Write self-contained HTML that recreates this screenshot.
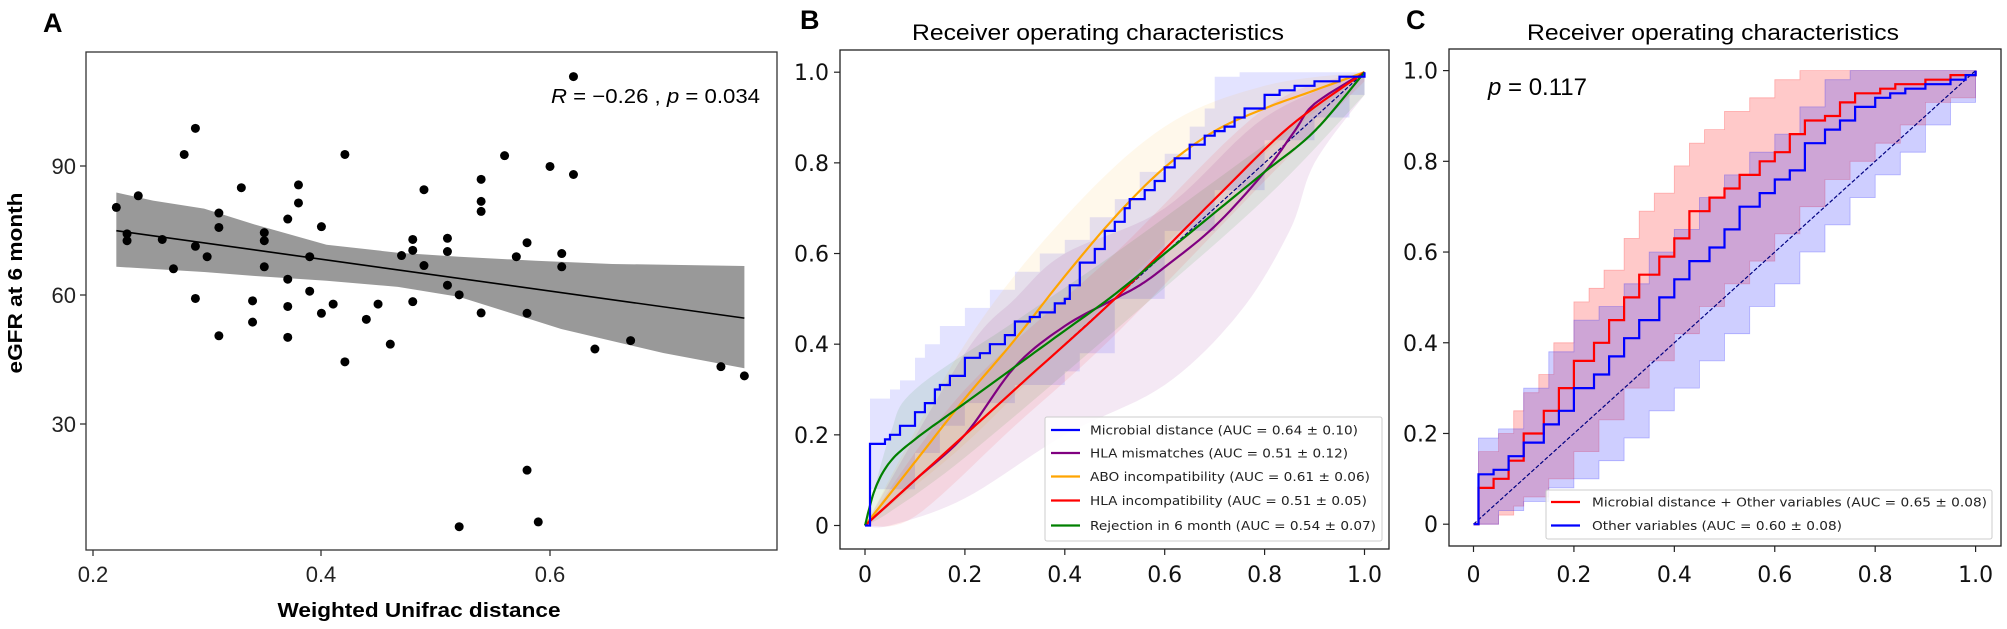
<!DOCTYPE html>
<html><head><meta charset="utf-8"><style>
html,body{margin:0;padding:0;background:#fff;}
svg{display:block;}
text{font-family:"Liberation Sans",sans-serif;}
.n{font-family:"DejaVu Sans","Liberation Sans",sans-serif;}
</style></head><body>
<svg id="s" width="2007" height="629" viewBox="0 0 2007 629" xmlns="http://www.w3.org/2000/svg">
<rect width="2007" height="629" fill="#fff"/>
<g id="A"></g>
<rect x="86" y="52" width="691" height="498" fill="none" stroke="#333" stroke-width="1.3"/>
<g stroke="#333" stroke-width="1.3">
<line x1="93" y1="550" x2="93" y2="556"/><line x1="321" y1="550" x2="321" y2="556"/><line x1="550" y1="550" x2="550" y2="556"/>
<line x1="80" y1="166" x2="86" y2="166"/><line x1="80" y1="295" x2="86" y2="295"/><line x1="80" y1="424" x2="86" y2="424"/>
</g>
<g font-size="22" fill="#222" style="font-family:'Liberation Sans Narrow','Liberation Sans',sans-serif">
<text x="93" y="582" text-anchor="middle">0.2</text><text x="321" y="582" text-anchor="middle">0.4</text><text x="550" y="582" text-anchor="middle">0.6</text>
<text x="76" y="174" text-anchor="end">90</text><text x="76" y="303" text-anchor="end">60</text><text x="76" y="432" text-anchor="end">30</text>
</g>
<text x="551" y="103" font-size="20" textLength="209" lengthAdjust="spacingAndGlyphs"><tspan font-style="italic">R</tspan> = −0.26 , <tspan font-style="italic">p</tspan> = 0.034</text>
<text x="43" y="32" font-size="27" font-weight="bold">A</text>
<text transform="translate(22,283) rotate(-90)" text-anchor="middle" font-size="20" font-weight="bold" textLength="181" lengthAdjust="spacingAndGlyphs">eGFR at 6 month</text>
<text x="419" y="617" text-anchor="middle" font-size="20" font-weight="bold" textLength="283" lengthAdjust="spacingAndGlyphs">Weighted Unifrac distance</text>

<text x="800" y="29" font-size="27" font-weight="bold">B</text>
<text x="1098" y="40" text-anchor="middle" font-size="22" textLength="372" lengthAdjust="spacingAndGlyphs">Receiver operating characteristics</text>
<g id="B"></g>
<rect x="840" y="50" width="549" height="499" fill="none" stroke="#222" stroke-width="1.3"/>
<text x="1406" y="29" font-size="27" font-weight="bold">C</text>
<text x="1713" y="40" text-anchor="middle" font-size="22" textLength="372" lengthAdjust="spacingAndGlyphs">Receiver operating characteristics</text>
<g id="C"></g>
<rect x="1449" y="49" width="552" height="497" fill="none" stroke="#222" stroke-width="1.3"/>
<text x="1488" y="95" font-size="24"><tspan font-style="italic">p</tspan> = 0.117</text>
</svg>
<script>
var NS="http://www.w3.org/2000/svg";
function el(p,t,a,txt){var e=document.createElementNS(NS,t);for(var k in a)e.setAttribute(k,a[k]);if(txt!=null)e.textContent=txt;document.getElementById(p).appendChild(e);return e;}
function ax(z){return z*800/1568;} function ay(z){return z*629/1568;}
var up=[[228,480],[300,500],[400,520],[500,560],[640,610],[780,630],[900,640],[1050,650],[1200,658],[1459,663]];
var lo=[[1459,918],[1300,880],[1100,820],[1000,780],[900,740],[780,715],[640,700],[500,688],[400,678],[228,665]];
el("A","polygon",{points:up.concat(lo).map(function(p){return ax(p[0])+","+ay(p[1]);}).join(" "),fill:"#999"});
el("A","line",{x1:ax(228),y1:ay(575),x2:ax(1459),y2:ay(793),stroke:"#000","stroke-width":1.6});
var pts=[[228,517],[249,583],[249,600],[271,488],[318,597],[340,670],[361,385],[383,320],[383,614],[383,744],[406,640],[429,531],[429,567],[429,837],[473,468],[495,750],[495,803],[518,580],[518,600],[518,665],[564,546],[564,696],[564,764],[564,841],[585,461],[585,506],[607,640],[607,726],[630,565],[630,781],[653,758],[676,385],[676,902],[718,796],[741,758],[765,858],[787,637],[809,597],[809,624],[809,752],[831,473],[831,662],[877,594],[877,627],[877,711],[900,735],[900,1313],[943,447],[943,502],[943,527],[943,780],[989,388],[1012,640],[1033,605],[1033,781],[1033,1172],[1055,1301],[1078,415],[1101,632],[1101,665],[1124,191],[1124,435],[1166,870],[1236,849],[1413,914],[1459,937]];
pts.forEach(function(p){el("A","circle",{cx:ax(p[0]),cy:ay(p[1]),r:4.5,fill:"#000"});});

function steps(a){var r=[a[0]];for(var i=1;i<a.length;i++){r.push([a[i][0],a[i-1][1]]);r.push(a[i]);}return r;}
function smooth(a){
 var r=[];for(var i=0;i<a.length-1;i++){var p0=a[Math.max(i-1,0)],p1=a[i],p2=a[i+1],p3=a[Math.min(i+2,a.length-1)];
 for(var t=0;t<1;t+=0.1){var t2=t*t,t3=t2*t;function c(k){return 0.5*((2*p1[k])+(-p0[k]+p2[k])*t+(2*p0[k]-5*p1[k]+4*p2[k]-p3[k])*t2+(-p0[k]+3*p1[k]-3*p2[k]+p3[k])*t3);}r.push([c(0),c(1)]);}}
 r.push(a[a.length-1]);return r;}
var boxL={B:840,C:1449};
function panel(id,X0,X1,Y0,Y1,bands,lines,boxB){
 var px=function(x){return X0+(X1-X0)*x},py=function(y){return Y0+(Y1-Y0)*y};
 function s(a){return a.map(function(p){return px(p[0]).toFixed(1)+","+py(p[1]).toFixed(1);}).join(" ");}
 bands.forEach(function(b){el(id,"polygon",{points:s(b.u.concat(b.l.slice().reverse())),fill:b.c,stroke:b.sc||"none","stroke-width":0.8});});
 el(id,"line",{x1:px(0),y1:py(0),x2:px(1),y2:py(1),stroke:"#000080","stroke-width":1.2,"stroke-dasharray":"4,2"});
 lines.forEach(function(l){el(id,"polyline",{points:s(l.p),fill:"none",stroke:l.c,"stroke-width":2.2});});
 [0,0.2,0.4,0.6,0.8,1].forEach(function(t){var lab=t==0?"0":t.toFixed(1);
  el(id,"line",{x1:px(t),y1:boxB,x2:px(t),y2:boxB+6,stroke:"#222","stroke-width":1.2});
  el(id,"text",{x:px(t),y:582,"text-anchor":"middle","font-size":22,"class":"n",fill:"#111"},lab);
  el(id,"line",{x1:boxL[id],y1:py(t),x2:boxL[id]-6,y2:py(t),stroke:"#222","stroke-width":1.2});
  el(id,"text",{x:boxL[id]-11,y:py(t)+8,"text-anchor":"end","font-size":22,"class":"n",fill:"#111"},lab);
 });
}
var bB={u:steps([[0,0],[0.01,0.28],[0.03,0.28],[0.05,0.3],[0.07,0.32],[0.1,0.37],[0.12,0.4],[0.15,0.44],[0.2,0.48],[0.25,0.52],[0.3,0.56],[0.35,0.6],[0.4,0.63],[0.45,0.68],[0.5,0.72],[0.55,0.78],[0.6,0.82],[0.65,0.88],[0.68,0.92],[0.7,0.99],[0.75,1],[1,1]]),
 l:steps([[0,0],[0.01,0.08],[0.05,0.08],[0.1,0.16],[0.15,0.22],[0.2,0.27],[0.3,0.31],[0.4,0.34],[0.43,0.38],[0.5,0.5],[0.6,0.65],[0.7,0.74],[0.8,0.85],[0.9,0.9],[0.97,0.95],[1,1]]),c:"rgba(0,0,255,0.11)"};
var pB={u:smooth([[0,0],[0.2,0.38],[0.3,0.5],[0.4,0.6],[0.6,0.7],[0.8,0.9],[1,1]]),l:smooth([[0,0],[0.05,0],[0.2,0.06],[0.4,0.2],[0.6,0.31],[0.75,0.47],[0.85,0.65],[0.9,0.8],[1,0.95]]),c:"rgba(128,0,128,0.09)"};
var oB={u:smooth([[0,0],[0.2,0.4],[0.4,0.68],[0.6,0.88],[0.8,0.97],[1,1]]),l:smooth([[0,0],[0.2,0.18],[0.4,0.4],[0.6,0.62],[0.8,0.82],[1,1]]),c:"rgba(255,165,0,0.08)"};
var gB={u:smooth([[0,0],[0.05,0.2],[0.1,0.3],[0.3,0.45],[0.5,0.6],[0.7,0.76],[1,1]]),l:smooth([[0,0],[0.05,0.03],[0.2,0.15],[0.5,0.43],[0.8,0.72],[1,0.95]]),c:"rgba(0,128,0,0.09)"};
var rB={u:smooth([[0,0],[0.2,0.3],[0.5,0.6],[0.8,0.92],[1,1]]),l:smooth([[0,0],[0.1,0.02],[0.3,0.22],[0.5,0.42],[0.8,0.76],[1,0.98]]),c:"rgba(255,0,0,0.08)"};
panel("B",865,1364.5,525.5,72.2,[bB,pB,oB,gB,rB],[
 {c:"#800080",p:smooth([[0,0],[0.1,0.1],[0.2,0.2],[0.3,0.35],[0.4,0.44],[0.5,0.5],[0.55,0.53],[0.6,0.57],[0.7,0.66],[0.8,0.78],[0.86,0.87],[0.9,0.93],[1,1]])},
 {c:"#ffa500",p:smooth([[0,0],[0.1,0.14],[0.2,0.28],[0.3,0.41],[0.4,0.55],[0.5,0.68],[0.6,0.79],[0.7,0.87],[0.8,0.92],[0.9,0.96],[1,1]])},
 {c:"#ff0000",p:smooth([[0,0],[0.3,0.3],[0.5,0.5],[0.7,0.72],[0.85,0.88],[1,1]])},
 {c:"#008000",p:smooth([[0,0],[0.02,0.08],[0.05,0.14],[0.1,0.19],[0.2,0.27],[0.3,0.35],[0.4,0.43],[0.5,0.51],[0.6,0.6],[0.7,0.69],[0.8,0.78],[0.9,0.87],[1,1]])},
 {c:"#0000ff",p:steps([[0,0],[0.01,0.18],[0.03,0.18],[0.04,0.19],[0.05,0.2],[0.07,0.22],[0.09,0.22],[0.1,0.25],[0.12,0.27],[0.14,0.3],[0.15,0.31],[0.17,0.33],[0.2,0.37],[0.23,0.38],[0.25,0.4],[0.28,0.42],[0.3,0.45],[0.33,0.46],[0.35,0.47],[0.38,0.49],[0.4,0.5],[0.41,0.53],[0.43,0.58],[0.46,0.61],[0.48,0.65],[0.5,0.67],[0.52,0.7],[0.53,0.72],[0.56,0.74],[0.58,0.76],[0.6,0.79],[0.62,0.81],[0.65,0.84],[0.68,0.86],[0.7,0.87],[0.72,0.88],[0.74,0.9],[0.76,0.92],[0.8,0.95],[0.83,0.96],[0.86,0.97],[0.9,0.98],[0.95,0.99],[1,1]])}
],549);
var rC={u:steps([[0,0],[0.01,0.16],[0.05,0.2],[0.08,0.25],[0.1,0.29],[0.13,0.33],[0.16,0.4],[0.2,0.49],[0.23,0.52],[0.26,0.56],[0.3,0.63],[0.33,0.69],[0.36,0.73],[0.4,0.79],[0.43,0.84],[0.46,0.87],[0.5,0.91],[0.55,0.94],[0.6,0.98],[0.65,1],[1,1]]),
 l:steps([[0,0],[0.05,0.02],[0.08,0.04],[0.1,0.06],[0.15,0.1],[0.2,0.16],[0.25,0.23],[0.3,0.3],[0.35,0.36],[0.4,0.42],[0.45,0.48],[0.5,0.53],[0.55,0.58],[0.6,0.64],[0.65,0.7],[0.7,0.76],[0.75,0.8],[0.8,0.84],[0.85,0.88],[0.9,0.93],[0.95,0.94],[1,1]]),c:"rgba(255,60,60,0.28)",sc:"rgba(255,0,0,0.25)"};
var bC={u:steps([[0,0],[0.01,0.19],[0.05,0.21],[0.1,0.3],[0.15,0.38],[0.2,0.45],[0.25,0.48],[0.3,0.53],[0.35,0.6],[0.4,0.65],[0.45,0.72],[0.5,0.77],[0.55,0.82],[0.6,0.86],[0.65,0.92],[0.7,0.98],[0.75,1],[1,1]]),
 l:steps([[0,0],[0.05,0.03],[0.1,0.05],[0.15,0.08],[0.2,0.1],[0.25,0.14],[0.3,0.19],[0.35,0.25],[0.4,0.3],[0.45,0.36],[0.5,0.42],[0.55,0.48],[0.6,0.53],[0.65,0.6],[0.7,0.66],[0.75,0.72],[0.8,0.77],[0.85,0.82],[0.9,0.88],[0.95,0.93],[1,0.97]]),c:"rgba(60,60,255,0.25)",sc:"rgba(0,0,255,0.25)"};
panel("C",1473.5,1975.6,524.2,70.6,[rC,bC],[
 {c:"#ff0000",p:steps([[0,0],[0.01,0.08],[0.03,0.08],[0.04,0.1],[0.06,0.1],[0.07,0.14],[0.09,0.14],[0.1,0.2],[0.13,0.2],[0.14,0.25],[0.16,0.25],[0.17,0.3],[0.19,0.3],[0.2,0.36],[0.23,0.36],[0.24,0.4],[0.26,0.4],[0.27,0.45],[0.29,0.45],[0.3,0.5],[0.32,0.5],[0.33,0.55],[0.36,0.55],[0.37,0.59],[0.39,0.59],[0.4,0.63],[0.42,0.63],[0.43,0.69],[0.46,0.69],[0.47,0.72],[0.49,0.72],[0.5,0.74],[0.52,0.74],[0.53,0.77],[0.56,0.77],[0.57,0.8],[0.59,0.8],[0.6,0.82],[0.62,0.82],[0.63,0.86],[0.65,0.86],[0.66,0.89],[0.69,0.89],[0.7,0.9],[0.72,0.9],[0.73,0.93],[0.75,0.93],[0.76,0.95],[0.8,0.95],[0.81,0.96],[0.83,0.96],[0.84,0.97],[0.9,0.98],[0.95,0.99],[1,1]])},
 {c:"#0000ff",p:steps([[0,0],[0.01,0.11],[0.03,0.11],[0.04,0.12],[0.06,0.12],[0.07,0.15],[0.09,0.15],[0.1,0.18],[0.13,0.18],[0.14,0.22],[0.16,0.22],[0.17,0.25],[0.19,0.25],[0.2,0.3],[0.23,0.3],[0.24,0.33],[0.26,0.33],[0.27,0.37],[0.29,0.37],[0.3,0.41],[0.32,0.41],[0.33,0.45],[0.36,0.45],[0.37,0.5],[0.39,0.5],[0.4,0.54],[0.42,0.54],[0.43,0.58],[0.46,0.58],[0.47,0.61],[0.49,0.61],[0.5,0.65],[0.52,0.65],[0.53,0.7],[0.56,0.7],[0.57,0.73],[0.59,0.73],[0.6,0.76],[0.62,0.76],[0.63,0.78],[0.65,0.78],[0.66,0.84],[0.69,0.84],[0.7,0.87],[0.72,0.87],[0.73,0.89],[0.75,0.89],[0.76,0.92],[0.79,0.92],[0.8,0.94],[0.82,0.94],[0.83,0.95],[0.86,0.96],[0.9,0.97],[0.95,0.98],[0.98,0.99],[1,1]])}
],546);
function legend(id,x,y,w,h,items,lx,tx){
 el(id,"rect",{x:x,y:y,width:w,height:h,fill:"rgba(255,255,255,0.85)",stroke:"#ccc","stroke-width":1,rx:2});
 items.forEach(function(it){el(id,"line",{x1:lx,y1:it.y,x2:lx+29,y2:it.y,stroke:it.c,"stroke-width":2.2});
  el(id,"text",{x:tx,y:it.y+4.5,"font-size":12.5,"class":"n",fill:"#222",textLength:it.w,lengthAdjust:"spacingAndGlyphs"},it.t);});
}
legend("B",1045,417,337,124,[
 {y:430,c:"#0000ff",t:"Microbial distance (AUC = 0.64 ± 0.10)",w:268},
 {y:453,c:"#800080",t:"HLA mismatches (AUC = 0.51 ± 0.12)",w:258},
 {y:476.5,c:"#ffa500",t:"ABO incompatibility (AUC = 0.61 ± 0.06)",w:280},
 {y:500.5,c:"#ff0000",t:"HLA incompatibility (AUC = 0.51 ± 0.05)",w:277},
 {y:525.5,c:"#008000",t:"Rejection in 6 month (AUC = 0.54 ± 0.07)",w:286}],1051,1090);
legend("C",1546,490,446,49,[
 {y:502,c:"#ff0000",t:"Microbial distance + Other variables (AUC = 0.65 ± 0.08)",w:395},
 {y:525.5,c:"#0000ff",t:"Other variables (AUC = 0.60 ± 0.08)",w:250}],1551,1592);
</script>
</body></html>
